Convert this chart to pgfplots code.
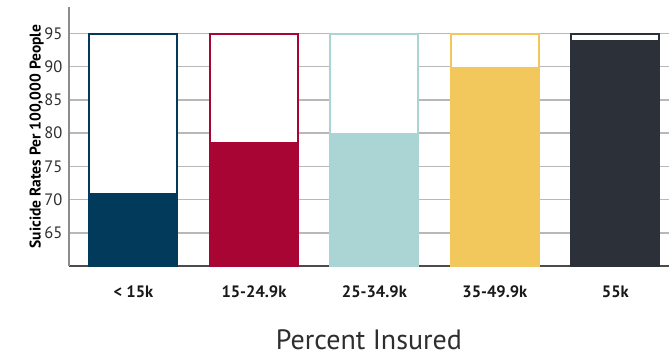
\documentclass[border=0pt]{standalone}
\usepackage{fontspec}
\setmainfont{PT Sans}
\usepackage{pgfplots}
\pgfplotsset{compat=1.18}
\definecolor{c1}{HTML}{023A5B}
\definecolor{c2}{HTML}{A80534}
\definecolor{c3}{HTML}{AAD5D4}
\definecolor{c4}{HTML}{F2C75C}
\definecolor{c5}{HTML}{2C3038}
\definecolor{txt}{HTML}{2E2E2E}
\begin{document}
\begin{tikzpicture}
\begin{axis}[
  scale only axis, width=600pt, height=259pt,
  xmin=-0.535, xmax=4.445, ymin=60, ymax=99,
  axis lines*=left,
  x axis line style={color=black!70, line width=1.4pt},
  y axis line style={color=black!45, line width=1.4pt},
  ytick={65,70,...,95},
  xtick={0,...,4},
  xticklabels={{< 15k},{15-24.9k},{25-34.9k},{35-49.9k},{55k}},
  major tick length=0pt,
  ymajorgrids, grid style={color=black!28, line width=1.4pt},
  /pgf/number format/assume math mode=true,
  yticklabel style={font=\fontsize{16.5}{16.5}\selectfont, text=txt, anchor=east, xshift=-3pt},
  xticklabel style={font=\bfseries\fontsize{16.5}{16.5}\selectfont, text=black!90, yshift=-16pt},
  xlabel={Percent Insured},
  xlabel style={font=\fontsize{28}{28}\selectfont, text=txt, yshift=-25pt},
  ylabel={Suicide Rates Per 100,000 People},
  ylabel style={font=\bfseries\fontsize{15.5}{15.5}\selectfont, text=black, yshift=-6pt},
  ybar, bar width=0.73, bar shift=0pt,
  clip=true,
]
\addplot[draw=c1, fill=white, line width=2pt] coordinates {(0,95)};
\addplot[draw=c2, fill=white, line width=2pt] coordinates {(1,95)};
\addplot[draw=c3, fill=white, line width=2pt] coordinates {(2,95)};
\addplot[draw=c4, fill=white, line width=2pt] coordinates {(3,95)};
\addplot[draw=c5, fill=white, line width=2pt] coordinates {(4,95)};
\addplot[draw=none, fill=c1] coordinates {(0,71)};
\addplot[draw=none, fill=c2] coordinates {(1,78.7)};
\addplot[draw=none, fill=c3] coordinates {(2,80)};
\addplot[draw=none, fill=c4] coordinates {(3,90)};
\addplot[draw=none, fill=c5] coordinates {(4,94)};
\end{axis}
\pgfresetboundingbox
\useasboundingbox (-69pt,-94pt) rectangle (600pt,266pt);
\end{tikzpicture}
\end{document}
